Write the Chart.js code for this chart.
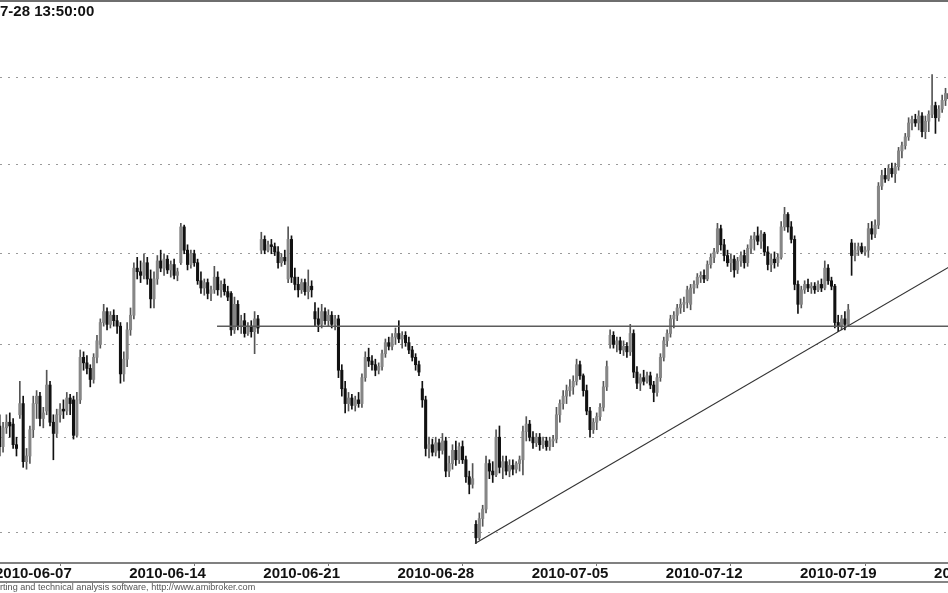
<!DOCTYPE html>
<html>
<head>
<meta charset="utf-8">
<title>Intraday 60 min – 2010-06 / 2010-07</title>
<script src="https://cdn.jsdelivr.net/npm/chart.js@4.4.1/dist/chart.umd.min.js"></script>
<style>
  html, body { margin: 0; padding: 0; background: #fff; }
  #wrap { width: 948px; height: 593px; overflow: hidden; }
</style>
</head>
<body>
<div id="wrap"><canvas id="chart" width="948" height="593"></canvas></div>
<script>
"use strict";

// ── Texts ─────────────────────────────────────────────────
const titleText  = "7-28 13:50:00";
const footerText = "rting and technical analysis software, http://www.amibroker.com";

// ── Axis data ─────────────────────────────────────────────
const weekLabels = ["2010-06-07", "2010-06-14", "2010-06-21", "2010-06-28",
                    "2010-07-05", "2010-07-12", "2010-07-19", "2010-07-26"];
const weekStarts = [0, 40, 80, 120, 160, 200, 240, 280];   // bar index of each Monday 9:00
const gridLevels = [2200, 2250, 2300, 2350, 2400, 2450];

// ── Hourly bars (8 per session) ───────────────────────────
const openP = [
  2255,2258,2256,2245,2255,2258,2257,2246,  2262,2268,2237,2240,2254,2268,2272,2260,
  2264,2278,2258,2252,2262,2265,2264,2271,  2270,2251,2270,2293,2290,2287,2281,2293,
  2300,2312,2318,2311,2316,2313,2310,2284,  2292,2308,2316,2342,2340,2338,2345,2336,
  2325,2336,2346,2342,2347,2341,2344,2338,  2345,2365,2352,2344,2350,2345,2335,2331,
  2334,2328,2330,2337,2330,2333,2329,2328,  2308,2322,2310,2313,2306,2310,2307,2314,
  2352,2358,2352,2355,2354,2351,2345,2348,  2336,2358,2337,2333,2330,2334,2329,2332,
  2318,2314,2311,2318,2313,2316,2311,2314,  2286,2276,2268,2271,2267,2270,2268,2282,
  2293,2291,2289,2286,2288,2295,2301,2299,  2304,2306,2303,2305,2301,2297,2293,2289,
  2276,2270,2244,2246,2242,2247,2243,2248,  2232,2236,2243,2238,2245,2238,2229,2225,
  2204,2197,2207,2212,2236,2232,2230,2250,  2234,2237,2232,2235,2233,2236,2238,2253,
  2257,2250,2247,2250,2246,2248,2245,2248,  2249,2262,2268,2272,2275,2277,2280,2289,
  2283,2275,2264,2254,2258,2261,2266,2277,  2300,2305,2300,2302,2297,2299,2296,2306,
  2285,2279,2282,2280,2283,2278,2274,2282,  2293,2302,2306,2314,2316,2320,2322,2323,
  2322,2331,2333,2337,2338,2336,2344,2348,  2351,2364,2355,2349,2345,2347,2341,2346,
  2349,2345,2353,2358,2360,2357,2361,2351,  2344,2347,2345,2348,2365,2372,2365,2358,
  2333,2322,2330,2333,2331,2332,2330,2333,  2331,2342,2335,2332,2312,2310,2314,2311,
  2356,2349,2352,2354,2351,2352,2364,2361,  2366,2388,2394,2392,2398,2395,2399,2408,
  2411,2416,2424,2426,2424,2428,2419,2425,  2429,2434,2427,2432,2437,2441
];
const highP = [
  2262,2264,2262,2258,2262,2263,2260,2250,  2280,2272,2244,2256,2272,2275,2274,2266,
  2286,2280,2262,2265,2268,2270,2274,2273,  2272,2274,2297,2296,2294,2289,2295,2305,
  2314,2322,2320,2318,2319,2316,2312,2296,  2312,2320,2345,2348,2346,2350,2348,2341,
  2340,2349,2352,2350,2349,2346,2347,2342,  2367,2366,2355,2352,2352,2347,2340,2336,
  2336,2332,2343,2340,2335,2336,2332,2329,  2326,2324,2316,2317,2312,2313,2318,2316,
  2362,2360,2357,2358,2356,2354,2350,2352,  2365,2360,2342,2337,2336,2336,2341,2335,
  2323,2320,2322,2320,2319,2318,2316,2316,  2289,2280,2274,2273,2272,2274,2284,2296,
  2298,2294,2292,2290,2297,2303,2304,2306,  2309,2313,2307,2307,2304,2299,2295,2291,
  2280,2272,2250,2249,2250,2249,2252,2250,  2240,2246,2248,2247,2248,2240,2232,2236,
  2206,2210,2214,2240,2238,2237,2254,2256,  2240,2240,2238,2238,2237,2240,2256,2261,
  2259,2253,2252,2252,2250,2250,2250,2251,  2266,2270,2275,2278,2281,2283,2292,2291,
  2284,2278,2266,2260,2263,2268,2280,2291,  2308,2307,2304,2304,2302,2301,2311,2308,
  2288,2284,2286,2285,2285,2280,2284,2295,  2304,2308,2316,2318,2322,2325,2326,2332,
  2333,2335,2339,2340,2341,2346,2350,2353,  2367,2366,2358,2352,2350,2349,2348,2351,
  2352,2355,2360,2362,2365,2363,2362,2354,  2350,2351,2350,2368,2376,2373,2368,2360,
  2335,2332,2335,2336,2334,2334,2335,2336,  2346,2344,2337,2333,2316,2316,2318,2322,
  2358,2356,2356,2356,2354,2367,2368,2369,  2390,2397,2398,2400,2401,2401,2410,2413,
  2418,2427,2428,2429,2431,2430,2428,2431,  2452,2436,2434,2440,2444,2446
];
const lowP = [
  2250,2252,2240,2242,2252,2250,2244,2240,  2260,2234,2233,2236,2250,2260,2256,2255,
  2262,2256,2238,2250,2258,2260,2262,2262,  2249,2250,2268,2286,2284,2277,2279,2290,
  2298,2310,2308,2309,2310,2306,2279,2280,  2288,2305,2314,2336,2334,2336,2333,2320,
  2320,2333,2340,2338,2339,2337,2336,2335,  2344,2350,2341,2342,2343,2333,2328,2327,
  2325,2324,2328,2327,2326,2327,2324,2305,  2306,2308,2306,2304,2305,2304,2295,2306,
  2350,2350,2351,2350,2349,2342,2343,2344,  2334,2334,2330,2326,2328,2327,2325,2326,
  2310,2307,2309,2311,2310,2309,2308,2282,  2272,2263,2264,2265,2264,2266,2266,2280,
  2288,2286,2283,2284,2286,2293,2297,2297,  2300,2301,2298,2299,2295,2291,2286,2283,
  2266,2240,2239,2240,2240,2239,2241,2229,  2229,2233,2235,2236,2236,2226,2220,2223,
  2194,2196,2203,2210,2228,2226,2229,2231,  2228,2230,2229,2230,2231,2232,2230,2248,
  2248,2244,2245,2243,2244,2243,2243,2245,  2247,2258,2265,2268,2272,2273,2278,2281,
  2272,2262,2250,2252,2254,2259,2264,2275,  2298,2298,2296,2295,2294,2293,2294,2282,
  2276,2275,2278,2279,2276,2269,2272,2280,  2291,2299,2304,2309,2313,2317,2318,2320,
  2319,2328,2331,2334,2334,2335,2342,2345,  2350,2352,2346,2343,2340,2337,2339,2343,
  2342,2343,2350,2352,2355,2353,2349,2341,  2340,2342,2343,2347,2363,2362,2356,2330,
  2317,2320,2328,2329,2328,2328,2329,2329,  2330,2333,2330,2309,2307,2308,2308,2310,
  2338,2346,2349,2350,2349,2348,2358,2359,  2364,2386,2390,2391,2393,2390,2397,2404,
  2409,2414,2420,2422,2420,2416,2415,2419,  2427,2418,2425,2430,2434,2436
];
const closeP = [
  2258,2256,2245,2255,2258,2256,2246,2244,  2268,2237,2240,2254,2268,2272,2260,2263,
  2278,2258,2252,2262,2265,2264,2271,2268,  2251,2270,2293,2290,2287,2281,2293,2302,
  2312,2318,2311,2316,2313,2310,2284,2292,  2308,2316,2342,2340,2338,2345,2336,2325,
  2336,2346,2342,2347,2341,2344,2338,2340,  2365,2352,2344,2350,2345,2335,2331,2334,
  2328,2330,2337,2330,2333,2329,2326,2308,  2322,2310,2313,2306,2310,2307,2314,2309,
  2358,2352,2355,2354,2351,2345,2348,2346,  2358,2337,2333,2330,2334,2329,2332,2330,
  2314,2311,2318,2313,2316,2311,2314,2286,  2276,2268,2271,2267,2270,2268,2282,2293,
  2291,2289,2286,2288,2295,2301,2299,2304,  2306,2303,2305,2301,2297,2293,2289,2285,
  2270,2244,2246,2242,2247,2243,2248,2232,  2236,2243,2238,2245,2238,2229,2225,2228,
  2197,2207,2212,2236,2232,2230,2250,2234,  2237,2232,2235,2233,2236,2238,2253,2257,
  2250,2247,2250,2246,2248,2245,2248,2249,  2262,2268,2272,2275,2277,2280,2289,2283,
  2275,2264,2254,2258,2261,2266,2277,2288,  2305,2300,2302,2297,2299,2296,2306,2285,
  2279,2282,2280,2283,2278,2274,2282,2293,  2302,2306,2314,2316,2320,2322,2323,2330,
  2331,2333,2337,2338,2336,2344,2348,2351,  2364,2355,2349,2345,2347,2341,2346,2349,
  2345,2353,2358,2360,2357,2361,2351,2344,  2347,2345,2348,2365,2372,2365,2358,2333,
  2322,2330,2333,2331,2332,2330,2333,2331,  2342,2335,2332,2312,2310,2314,2311,2319,
  2349,2352,2354,2351,2352,2364,2361,2366,  2388,2394,2392,2398,2395,2399,2408,2411,
  2416,2424,2426,2424,2428,2419,2425,2429,  2434,2427,2432,2437,2441,2438
];

// ── Drawn studies ─────────────────────────────────────────
const supportLevel = 2310;
const supportBars  = [66.8, 300];
const trendBars    = [143.7, 290];
const trendPrices  = [2194, 2348];

// ── Build datasets ────────────────────────────────────────
const FONT = "'Liberation Sans', Arial, sans-serif";
const bars = closeP.map((_, i) => i);

const wickData  = bars.map(i => ({ x: i, y: [lowP[i], highP[i]] }));
const bodyData  = bars.map(i => ({ x: i, y: [Math.min(openP[i], closeP[i]), Math.max(openP[i], closeP[i])] }));
const isUp      = bars.map(i => closeP[i] >= openP[i]);
const bodyColor = isUp.map(up => up ? "#868686" : "#111111");
const wickColor = isUp.map(up => up ? "#555555" : "#111111");

// frame, title and footer text (AmiBroker look)
const framePlugin = {
  id: "frame",
  afterDraw(chart) {
    const c = chart.ctx;
    c.save();
    c.fillStyle = "#6e6e6e";
    c.fillRect(0, 0, chart.width, 2);
    c.fillStyle = "#858585";
    c.fillRect(0, 581, chart.width, 2);
    c.fillStyle = "#111";
    c.font = "bold 15px " + FONT;
    c.textBaseline = "alphabetic";
    c.fillText(titleText, 0, 16);
    c.fillStyle = "#555";
    c.font = "9.1px " + FONT;
    c.fillText(footerText, 0, 590);
    c.restore();
  }
};

// ── Chart ─────────────────────────────────────────────────
new Chart(document.getElementById("chart"), {
  type: "bar",
  data: {
    datasets: [
      {
        type: "line",
        data: supportBars.map(b => ({ x: b, y: supportLevel })),
        borderColor: "#5c5c5c",
        borderWidth: 1.6,
        pointRadius: 0,
        order: 0,
      },
      {
        type: "line",
        data: trendBars.map((b, k) => ({ x: b, y: trendPrices[k] })),
        borderColor: "#333",
        borderWidth: 1.1,
        pointRadius: 0,
        order: 0,
      },
      {
        data: bodyData,
        backgroundColor: bodyColor,
        borderWidth: 0,
        barThickness: 2.4,
        grouped: false,
        order: 1,
      },
      {
        data: wickData,
        backgroundColor: wickColor,
        borderWidth: 0,
        barThickness: 1,
        grouped: false,
        order: 2,
      },
    ],
  },
  options: {
    responsive: false,
    animation: false,
    layout: { padding: { top: 2, bottom: 12, left: 0, right: 0 } },
    plugins: {
      legend:  { display: false },
      tooltip: { enabled: false },
    },
    scales: {
      x: {
        type: "linear",
        min: 2.087,
        max: 284.74,
        offset: false,
        afterBuildTicks: s => { s.ticks = weekStarts.map(v => ({ value: v })); },
        // labels run off both edges like the original, so keep the full width
        afterFit: s => { s.paddingLeft = 0; s.paddingRight = 0; },
        grid:   { drawOnChartArea: false, drawTicks: true, tickLength: 3, tickColor: "#777" },
        border: { display: true, color: "#808080", width: 2 },
        ticks: {
          autoSkip: false,
          maxRotation: 0,
          align: "start",
          labelOffset: 2,
          padding: 0,
          color: "#111",
          font: { family: FONT, size: 15, weight: "bold", lineHeight: 1 },
          callback: (v, i) => weekLabels[i],
        },
      },
      y: {
        type: "logarithmic",
        min: 2183.9,
        max: 2494.5,
        afterBuildTicks: s => { s.ticks = gridLevels.map(v => ({ value: v })); },
        ticks:  { display: false },
        grid:   { color: "#9a9a9a", lineWidth: 1, drawTicks: false },
        border: { display: false, dash: [2, 6] },
      },
    },
  },
  plugins: [framePlugin],
});
</script>
</body>
</html>
